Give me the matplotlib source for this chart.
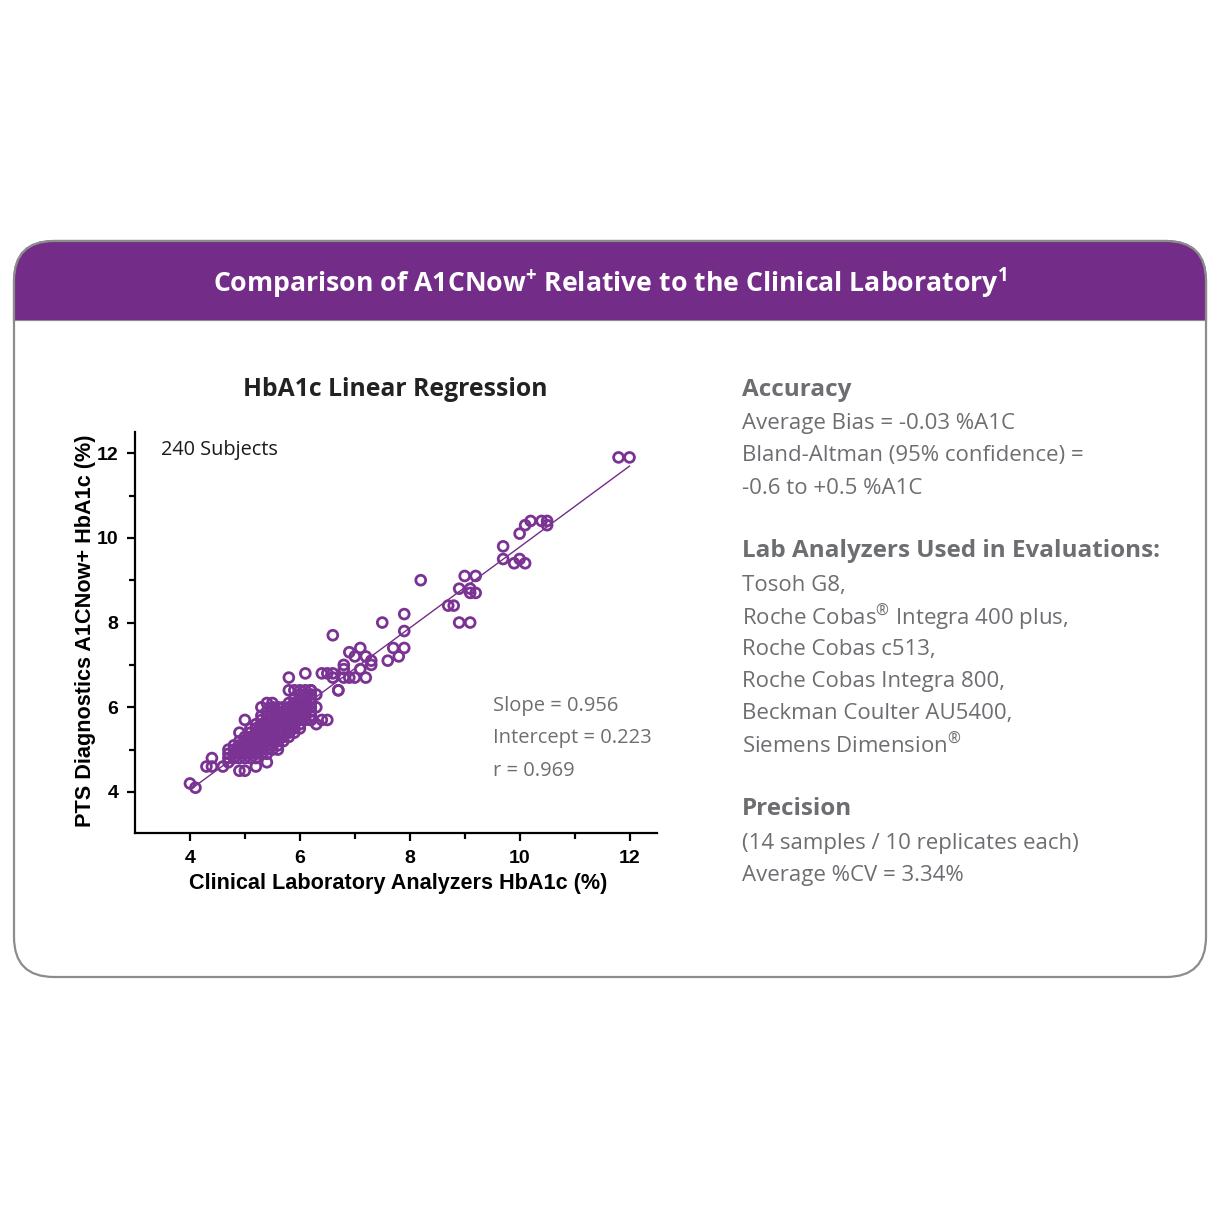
import matplotlib
matplotlib.use("Agg")
import matplotlib.pyplot as plt
from matplotlib.patches import FancyBboxPatch, Rectangle
import numpy as np

plt.rcParams['mathtext.fontset'] = 'custom'
plt.rcParams['mathtext.rm'] = 'Open Sans'
plt.rcParams['mathtext.bf'] = 'Open Sans:bold'

# ---------------- data ----------------
# dense cluster: x value -> list of y values
cluster_x = [4.7, 4.8, 4.9, 5.0, 5.1, 5.2, 5.3, 5.4, 5.5, 5.6, 5.7, 5.8, 5.9, 6.0, 6.1, 6.2, 6.3]
cluster_y = [
    [4.8, 4.9, 5.0],
    [4.8, 4.9, 5.0, 5.1],
    [4.8, 4.9, 5.0, 5.1, 5.2],
    [4.8, 4.9, 5.0, 5.1, 5.2, 5.3],
    [4.8, 4.9, 5.0, 5.1, 5.2, 5.3, 5.4, 5.5],
    [4.8, 4.9, 5.0, 5.1, 5.2, 5.3, 5.4, 5.5, 5.6],
    [4.9, 5.0, 5.1, 5.2, 5.3, 5.4, 5.5, 5.6, 5.7, 5.8],
    [4.9, 5.0, 5.1, 5.2, 5.3, 5.4, 5.5, 5.6, 5.7, 5.8, 5.9],
    [5.0, 5.1, 5.2, 5.3, 5.4, 5.5, 5.6, 5.7, 5.8, 5.9, 6.0],
    [5.0, 5.1, 5.2, 5.3, 5.4, 5.5, 5.6, 5.7, 5.8, 5.9, 6.0],
    [5.2, 5.3, 5.4, 5.5, 5.6, 5.7, 5.8, 5.9, 6.0],
    [5.3, 5.4, 5.5, 5.6, 5.7, 5.8, 5.9, 6.0, 6.1, 6.4],
    [5.4, 5.5, 5.6, 5.7, 5.8, 5.9, 6.0, 6.1, 6.2, 6.4],
    [5.5, 5.6, 5.7, 5.8, 5.9, 6.0, 6.1, 6.2, 6.3, 6.4],
    [5.7, 5.8, 5.9, 6.0, 6.1, 6.2, 6.3, 6.4],
    [5.7, 5.8, 5.9, 6.0, 6.1, 6.2, 6.3, 6.4],
    [6.0, 6.3],
]
# scattered points
lab_x = [4.0, 4.1, 4.3, 4.4, 4.4, 4.6, 4.7, 4.9, 5.0, 5.2, 5.4, 4.9, 5.0,
         5.3, 5.4, 5.5, 5.8, 6.1, 6.4, 6.5, 6.6, 6.6, 6.6, 6.7, 6.8, 6.8, 6.9, 6.9,
         7.0, 7.0, 7.1, 7.1, 7.2, 7.2, 7.3, 7.3, 6.8, 6.2, 6.4, 6.5, 6.3, 6.2,
         7.5, 7.6, 7.7, 7.8, 7.9, 7.9, 7.9, 8.2, 8.7, 8.8, 8.9, 8.9, 9.1, 9.0,
         9.2, 9.1, 9.1, 9.2, 9.7, 9.7, 9.9, 10.0, 10.1, 10.0, 10.1, 10.2, 10.4,
         10.5, 10.5, 11.8, 12.0, 6.7]
pts_y = [4.2, 4.1, 4.6, 4.8, 4.6, 4.6, 4.7, 4.5, 4.5, 4.6, 4.7, 5.4, 5.7,
         6.0, 6.1, 6.1, 6.7, 6.8, 6.8, 6.8, 6.8, 7.7, 6.7, 6.4, 7.0, 6.7, 7.3, 6.7,
         7.2, 6.7, 7.4, 6.9, 7.2, 6.7, 7.1, 7.0, 6.9, 5.7, 5.7, 5.7, 5.6, 6.4,
         8.0, 7.1, 7.4, 7.2, 7.4, 7.8, 8.2, 9.0, 8.4, 8.4, 8.0, 8.8, 8.0, 9.1,
         9.1, 8.8, 8.7, 8.7, 9.8, 9.5, 9.4, 9.5, 9.4, 10.1, 10.3, 10.4, 10.4,
         10.4, 10.3, 11.9, 11.9, 6.4]

slope = 0.956
intercept = 0.223
r_value = 0.969
line_x = [4.05, 12.0]

x_ticks = [4, 6, 8, 10, 12]
y_ticks = [4, 6, 8, 10, 12]

title = r"Comparison of A1CNow$^{\mathbf{+}}$ Relative to the Clinical Laboratory$^{\mathbf{1}}$"

# ---------------- figure ----------------
W = 1220
fig = plt.figure(figsize=(12.2, 12.2), dpi=100)
fig.patch.set_facecolor('white')

def fx(px):
    return px / W

def fy(py):
    return 1 - py / W

purple = '#732C88'
gray_border = '#8C8C8C'
txt_gray = '#6D6E71'

box_l, box_r, box_t, box_b = 14, 1206, 241, 977
rs = 40 / W
outer = FancyBboxPatch((fx(box_l), fy(box_b)), fx(box_r - box_l), (box_b - box_t) / W,
                       boxstyle=f"round,pad=0,rounding_size={rs}",
                       transform=fig.transFigure, facecolor='white',
                       edgecolor=gray_border, linewidth=1.6, zorder=-2)
fig.patches.append(outer)
header = FancyBboxPatch((fx(box_l), fy(box_b)), fx(box_r - box_l), (box_b - box_t) / W,
                        boxstyle=f"round,pad=0,rounding_size={rs}",
                        transform=fig.transFigure, facecolor=purple,
                        edgecolor=gray_border, linewidth=1.6, zorder=-1)
clip = Rectangle((0, fy(320)), 1, (320 - 230) / W, transform=fig.transFigure)
header.set_clip_path(clip)
fig.patches.append(header)
fig.lines.append(plt.Line2D([fx(box_l), fx(box_r)], [fy(320), fy(320)],
                            transform=fig.transFigure, color=gray_border, lw=1.6, zorder=-1))

fig.text(fx(610), fy(283), title, color='white', fontsize=19.2, fontweight='bold',
         family='Open Sans', ha='center', va='center', zorder=3)

# ---------------- axes ----------------
ax = fig.add_axes([fx(135), fy(833), fx(657 - 135), (833 - 432) / W])
ax.set_zorder(5)
ax.patch.set_alpha(0)
ax.set_xlim(3.0, 12.5)
ax.set_ylim(3.03, 12.5)
for s in ['top', 'right']:
    ax.spines[s].set_visible(False)
for s in ['left', 'bottom']:
    ax.spines[s].set_linewidth(1.6)
    ax.spines[s].set_color('black')

ax.set_xticks([5, 7, 9, 11], minor=True)
ax.set_yticks([5, 7, 9, 11], minor=True)
tick_font = dict(family='Liberation Sans', weight='bold', size=14)
ax.set_xticks(x_ticks, [str(v) for v in x_ticks], fontdict=tick_font)
ax.set_yticks(y_ticks, [str(v) for v in y_ticks], fontdict=tick_font)
ax.tick_params(which='major', length=6, width=1.6, pad=6)
ax.tick_params(which='minor', length=4, width=1.6)

ax.set_xlabel("Clinical Laboratory Analyzers HbA1c (%)", fontsize=15.6, fontweight='bold',
              family='Liberation Sans', va='center')
ax.xaxis.set_label_coords((398 - 135) / 522, -(884 - 833) / 401)
ax.set_ylabel("PTS Diagnostics A1CNow+ HbA1c (%)", fontsize=15.6, fontweight='bold',
              family='Liberation Sans', va='center')
ax.yaxis.set_label_coords(-(135 - 86) / 522, (833 - 631) / 401)

# regression line
lx = np.array(line_x)
ax.plot(lx, slope * lx + intercept, color=purple, lw=1.0, zorder=2)

# points
cx, cy = [], []
for xv, ys in zip(cluster_x, cluster_y):
    for yv in ys:
        cx.append(xv)
        cy.append(yv)
all_x = cx + lab_x
all_y = cy + pts_y
ax.scatter(all_x, all_y, s=50, facecolors='none', edgecolors='#7B3393', linewidths=2.0, zorder=3)

ax.text(0.05, 0.955, "240 Subjects", transform=ax.transAxes, fontsize=14.3,
        family='Open Sans', color='#1a1a1a', ha='left', va='center')

for i, t in enumerate([f"Slope = {slope}", f"Intercept = {intercept}", f"r = {r_value}"]):
    fig.text(fx(493), fy(706 + 32.5 * i), t, fontsize=14.5, family='Open Sans',
             color=txt_gray, ha='left', va='center', zorder=6)

fig.text(fx(395), fy(390), "HbA1c Linear Regression", fontsize=17.8, fontweight='bold',
         family='Open Sans', color='#222222', ha='center', va='center')

# ---------------- right panel ----------------
rx = fx(742)
head_fs = 17.5
body_fs = 16
fig.text(rx, fy(390), "Accuracy", fontsize=head_fs, fontweight='bold', family='Open Sans',
         color=txt_gray, ha='left', va='center')
acc_lines = ["Average Bias = -0.03 %A1C", "Bland-Altman (95% confidence) =", "-0.6 to +0.5 %A1C"]
for i, t in enumerate(acc_lines):
    fig.text(rx, fy(423 + 32.5 * i), t, fontsize=body_fs, family='Open Sans',
             color=txt_gray, ha='left', va='center')

fig.text(rx, fy(551), "Lab Analyzers Used in Evaluations:", fontsize=head_fs, fontweight='bold',
         family='Open Sans', color=txt_gray, ha='left', va='center')
lab_lines = ["Tosoh G8,", r"Roche Cobas$^{\circledR}$ Integra 400 plus,", "Roche Cobas c513,",
             "Roche Cobas Integra 800,", "Beckman Coulter AU5400,", r"Siemens Dimension$^{\circledR}$"]
for i, t in enumerate(lab_lines):
    fig.text(rx, fy(585 + 32.2 * i), t, fontsize=body_fs, family='Open Sans',
             color=txt_gray, ha='left', va='center')

fig.text(rx, fy(809), "Precision", fontsize=head_fs, fontweight='bold', family='Open Sans',
         color=txt_gray, ha='left', va='center')
prec_lines = ["(14 samples / 10 replicates each)", "Average %CV = 3.34%"]
for i, t in enumerate(prec_lines):
    fig.text(rx, fy(843 + 32.5 * i), t, fontsize=body_fs, family='Open Sans',
             color=txt_gray, ha='left', va='center')

fig.savefig("out.png", dpi=100, facecolor='white')
